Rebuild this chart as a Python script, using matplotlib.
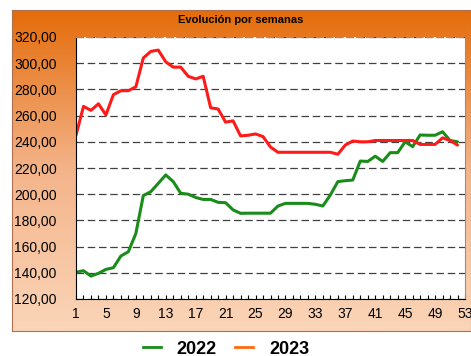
import numpy as np
import matplotlib.pyplot as plt
from matplotlib.colors import LinearSegmentedColormap
from matplotlib.lines import Line2D

plt.rcParams['font.family'] = ['Liberation Sans', 'DejaVu Sans']

weeks = list(range(1, 53))

# precio medio semanal
p2022 = [140.4, 141.6, 137.5, 139.6, 142.6, 143.9, 152.8, 156.1, 170.0, 199.0,
         201.9, 208.3, 214.7, 209.6, 200.7, 200.0, 197.5, 196.0, 196.0, 193.8,
         193.5, 188.0, 185.4, 185.5, 185.5, 185.5, 185.5, 191.0, 193.0, 193.0,
         193.0, 193.0, 192.3, 191.0, 199.4, 209.6, 210.3, 210.8, 225.3, 225.0,
         229.0, 225.0, 231.7, 231.7, 240.0, 236.3, 245.2, 245.0, 245.0, 247.7,
         241.0, 240.0]
p2023 = [245.0, 267.0, 264.0, 269.0, 260.5, 276.0, 279.0, 279.0, 282.0, 304.0,
         309.0, 310.0, 301.0, 297.0, 297.0, 290.0, 288.0, 290.0, 266.0, 265.0,
         255.0, 256.0, 244.5, 245.0, 246.0, 244.0, 236.0, 232.0, 232.0, 232.0,
         232.0, 232.0, 232.0, 232.0, 232.0, 230.5, 237.5, 240.6, 240.0, 240.0,
         241.0, 241.0, 241.0, 241.0, 241.0, 241.0, 238.0, 238.0, 238.0, 243.0,
         241.0, 237.5]

yticks = [120, 140, 160, 180, 200, 220, 240, 260, 280, 300, 320]
xticks = list(range(1, 54, 4))

W, H = 471, 356
fig = plt.figure(figsize=(W / 100, H / 100), dpi=100)
fig.patch.set_facecolor('white')

# orange gradient panel
px0, py0, px1, py1 = 12, 10, 471, 331
bg = fig.add_axes([px0 / W, 1 - py1 / H, (px1 - px0) / W, (py1 - py0) / H])
cmap = LinearSegmentedColormap.from_list('naranja', ['#fad5b8', '#f4b48a', '#e46c0a'])
grad = np.linspace(0, 1, 256).reshape(-1, 1)
bg.imshow(grad, aspect='auto', cmap=cmap, origin='lower', extent=[0, 1, 0, 1])
bg.set_xticks([])
bg.set_yticks([])
for s in bg.spines.values():
    s.set_color('#b07050')
    s.set_linewidth(0.8)

# plot area
ax0, ay0, ax1, ay1 = 76, 37, 465, 299
ax = fig.add_axes([ax0 / W, 1 - ay1 / H, (ax1 - ax0) / W, (ay1 - ay0) / H])
ax.set_facecolor('white')
ax.plot(weeks, p2022, color='#1a8c1a', lw=2.2, solid_joinstyle='round', solid_capstyle='round')
ax.plot(weeks, p2023, color='#ff1a1a', lw=2.2, solid_joinstyle='round', solid_capstyle='round')

ax.set_xlim(1, 53)
ax.set_ylim(120, 320)
ax.set_yticks(yticks)
ax.set_yticklabels([f'{v},00' for v in yticks], fontsize=10)
ax.set_xticks(xticks)
ax.set_xticklabels([str(v) for v in xticks], fontsize=10)
ax.set_xticks(range(1, 54), minor=True)
ax.tick_params(axis='x', which='both', direction='in', length=3, width=0.8, pad=6)
ax.tick_params(axis='y', length=0, pad=14)
ax.yaxis.grid(True, linestyle=(0, (6, 3)), color='#404040', lw=0.9)
ax.set_axisbelow(True)
ax.spines['left'].set_color('black')
ax.spines['bottom'].set_color('black')
ax.spines['top'].set_linestyle((0, (6, 3)))
ax.spines['top'].set_color('#909090')
ax.spines['right'].set_color('#909090')

fig.text(241 / W, 1 - 20 / H, 'Evolución por semanas', ha='center', va='center',
         fontsize=8, fontweight='bold')

handles = [Line2D([], [], color='#1a8c1a', lw=2),
           Line2D([], [], color='#ff6a10', lw=2)]
fig.legend(handles, ['2022', '2023'], loc='center', bbox_to_anchor=(226 / W, 1 - 349 / H),
           ncol=2, frameon=False, prop={'weight': 'bold', 'size': 13},
           handlelength=1.0, columnspacing=1.0, handletextpad=0.9)

fig.savefig('out.png', dpi=100)
